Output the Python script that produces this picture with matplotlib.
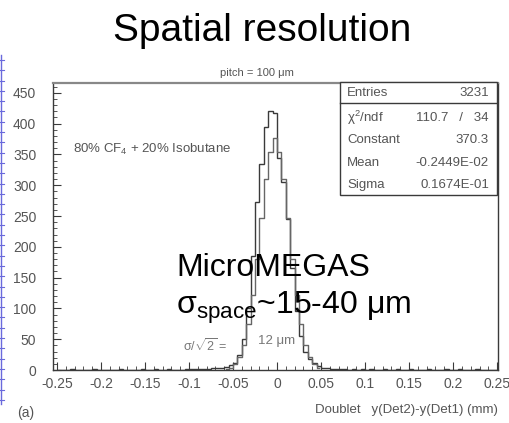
import numpy as np
import matplotlib
matplotlib.use("Agg")
import matplotlib.pyplot as plt
from matplotlib.lines import Line2D
from matplotlib.patches import Rectangle
from matplotlib.ticker import MultipleLocator

plt.rcParams['font.family'] = ['Liberation Sans', 'DejaVu Sans']
plt.rcParams['mathtext.fontset'] = 'custom'
plt.rcParams['mathtext.rm'] = 'Liberation Sans'
plt.rcParams['mathtext.it'] = 'Liberation Sans'
plt.rcParams['mathtext.default'] = 'regular'

# histogram: 100 bins of 0.005 from -0.25 to 0.25
bin_lo = -0.25
bin_w = 0.005
counts = [0, 0, 0, 1, 0, 0, 0, 0, 1, 0,
          0, 0, 0, 0, 1, 0, 0, 0, 0, 1,
          0, 0, 1, 0, 0, 1, 0, 0, 0, 1,
          1, 2, 1, 2, 2, 3, 3, 4, 5, 8,
          12, 25, 50, 100, 185, 273, 334, 394, 421, 418,
          345, 305, 245, 165, 95, 55, 30, 18, 12, 6,
          4, 3, 2, 2, 1, 1, 0, 1, 0, 2,
          0, 1, 0, 0, 1, 0, 0, 1, 0, 0,
          1, 0, 0, 0, 1, 0, 0, 0, 1, 0,
          0, 1, 0, 0, 0, 1, 0, 0, 0, 0]

# gaussian fit curve as drawn
fit_x = [-0.0575, -0.0525, -0.0475, -0.0425, -0.0375, -0.0325, -0.0275, -0.0225,
         -0.0175, -0.0125, -0.0075, -0.0025, 0.0025, 0.0075, 0.0125, 0.0175,
         0.0225, 0.0275, 0.0325, 0.0375, 0.0425, 0.0475]
fit_y = [2, 4, 10, 21, 41, 74, 121, 180, 246, 310, 354, 377, 354, 310, 246, 180,
         121, 74, 41, 21, 10, 4]

stats_labels = ["Entries", r"$\chi^2$/ndf", "Constant", "Mean", "Sigma"]
stats_values = ["3231", "110.7   /   34", "370.3", "-0.2449E-02", "0.1674E-01"]

x_ticks = [-0.25, -0.2, -0.15, -0.1, -0.05, 0, 0.05, 0.1, 0.15, 0.2, 0.25]
x_tick_labels = ["-0.25", "-0.2", "-0.15", "-0.1", "-0.05", "0", "0.05", "0.1", "0.15", "0.2", "0.25"]
y_ticks = [0, 50, 100, 150, 200, 250, 300, 350, 400, 450]

W, H = 510, 423
fig = plt.figure(figsize=(W / 100, H / 100), dpi=100)


def fx(px):
    return px / W


def fy(py):
    return 1 - py / H


gray = '#555555'
line_c = '#3a3a3a'

ax = fig.add_axes([fx(53), fy(370), fx(498) - fx(53), fy(83) - fy(370)])
edges = bin_lo + bin_w * np.arange(len(counts) + 1)
ax.stairs(counts, edges, color=line_c, lw=1.0)
ax.plot(fit_x, fit_y, color='#666666', lw=1.0, drawstyle='steps-mid')

ax.set_xlim(-0.2545, 0.251)
ax.set_ylim(0, 466)
ax.set_xticks(x_ticks)
ax.set_xticklabels(x_tick_labels)
ax.set_yticks(y_ticks)
ax.xaxis.set_minor_locator(MultipleLocator(0.01))
ax.yaxis.set_minor_locator(MultipleLocator(10))
ax.tick_params(which='both', direction='in', top=False, right=False,
               colors=line_c, labelcolor=gray, labelsize=10)
ax.tick_params(which='major', length=6, width=0.8)
ax.tick_params(which='minor', length=3, width=0.6)
ax.tick_params(axis='y', pad=12)
ax.tick_params(axis='x', pad=5)
for s in ax.spines.values():
    s.set_color(line_c)
    s.set_linewidth(1.0)
ax.spines['top'].set_color('#888888')
ax.spines['top'].set_linewidth(1.6)

# titles and annotations
fig.text(fx(262), fy(31), "Spatial resolution", fontsize=28, ha='center', va='center', color='black')
fig.text(fx(257), fy(73), "pitch = 100 μm", fontsize=8, ha='center', va='center', color=gray)
fig.text(fx(73), fy(149), r"80% CF$_4$ + 20% Isobutane", fontsize=9.5, ha='left', va='center', color=gray)
fig.text(fx(183), fy(346), r"$\sigma/\sqrt{2}$ =", fontsize=9, ha='left', va='center', color='#777777')
fig.text(fx(258), fy(341), "12 μm", fontsize=9.5, ha='left', va='center', color='#777777')
fig.text(fx(498), fy(410), "Doublet   y(Det2)-y(Det1) (mm)", fontsize=9.5, ha='right', va='center', color=gray)
fig.text(fx(17), fy(413), "(a)", fontsize=10, ha='left', va='center', color=gray)

fig.text(fx(176), fy(268), "MicroMEGAS", fontsize=23, ha='left', va='center', color='black')
fig.text(fx(176), fy(308), r"$\sigma_{space}$~15-40 μm", fontsize=23, ha='left', va='center', color='black')

# stats box
fig.add_artist(Rectangle((fx(340), fy(195)), fx(497) - fx(340), fy(82) - fy(195),
                         transform=fig.transFigure, fill=True, facecolor='white',
                         edgecolor=line_c, lw=1.0))
fig.add_artist(Line2D([fx(340), fx(497)], [fy(103), fy(103)], color=line_c, lw=1.0))
row_y = [93, 118, 140, 163, 185]
for lab, val, ry in zip(stats_labels, stats_values, row_y):
    fig.text(fx(347), fy(ry), lab, fontsize=9.5, ha='left', va='center', color=gray)
    fig.text(fx(489), fy(ry), val, fontsize=9.5, ha='right', va='center', color=gray)

# blue slide-margin ruler at far left
fig.add_artist(Line2D([fx(1.5), fx(1.5)], [fy(55), fy(404)], color='#6a6adc', lw=1.0))
for ty in np.arange(60, 404, 10.3):
    fig.add_artist(Line2D([fx(0), fx(4)], [fy(ty), fy(ty)], color='#6a6adc', lw=0.8))

fig.savefig("out.png", dpi=100)
